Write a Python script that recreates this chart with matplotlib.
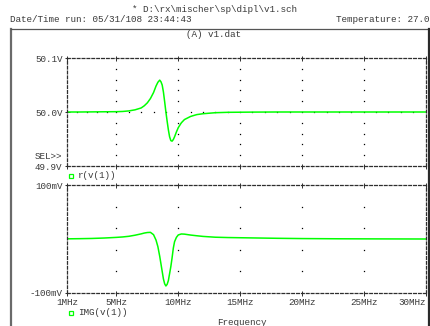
import matplotlib
matplotlib.use("Agg")
import matplotlib.pyplot as plt
from matplotlib.lines import Line2D

# ---- data -------------------------------------------------------------
freq_mhz = [1, 2, 3, 4, 5, 5.5, 6, 6.5, 7, 7.25, 7.5, 7.75, 8.0, 8.2, 8.35,
            8.5, 8.6, 8.7, 8.8, 8.9, 9.0, 9.1, 9.2, 9.3, 9.4, 9.5, 9.6, 9.7,
            9.85, 10.0, 10.25, 10.5, 11, 11.5, 12, 13, 14, 16, 18, 20, 23,
            26, 30]

# r(v(1)) in volts
re_v1 = [50.0, 50.0, 50.0002, 50.0004, 50.0006, 50.001, 50.002, 50.004,
         50.0075, 50.0115, 50.017, 50.025, 50.036, 50.048, 50.055, 50.059,
         50.056, 50.050, 50.037, 50.019, 50.000, 49.983, 49.967, 49.954,
         49.947, 49.946, 49.949, 49.954, 49.963, 49.971, 49.980, 49.986,
         49.9918, 49.9952, 49.9968, 49.9987, 49.9994, 49.9998, 50.0, 50.0,
         50.0, 50.0, 50.0]

# IMG(v(1)) in millivolts
im_v1 = [0.3, 0.6, 1.0, 1.8, 3.0, 3.8, 5.0, 7.0, 9.5, 11.0, 12.0, 12.3,
         8.0, -2.0, -14.0, -32.0, -46.0, -60.0, -74.0, -83.0, -87.0, -84.0,
         -77.0, -64.0, -51.0, -35.0, -17.0, -5.0, 3.0, 7.5, 9.3, 9.0, 7.3,
         6.0, 4.8, 3.3, 2.7, 2.0, 1.3, 0.8, 0.4, 0.2, 0.0]

x_ticks = [1, 5, 10, 15, 20, 25, 30]
x_tick_labels = ["1MHz", "5MHz", "10MHz", "15MHz", "20MHz", "25MHz", "30MHz"]
top_y_ticks = [49.9, 50.0, 50.1]
top_y_labels = ["49.9V", "50.0V", "50.1V"]
bot_y_ticks = [-100, 100]
bot_y_labels = ["-100mV", "100mV"]

# minor grid dot positions
grid_x = [5, 10, 15, 20, 25]
top_grid_y = [49.92, 49.94, 49.96, 49.98, 50.02, 50.04, 50.06, 50.08]
top_center_x = [1.8, 2.6, 3.4, 4.2, 5, 6, 7, 8, 9, 10, 11, 12, 13, 14, 15,
                16, 17, 18, 19, 20, 21, 22, 23, 24, 25, 26, 27, 28, 29]
bot_grid_y = [-60, -20, 20, 60]

# ---- styling ----------------------------------------------------------
W, H = 430, 326
FONT = "Liberation Mono"
FS = 6.7
TXT = "#3a3a3a"
GREEN = "#00ff00"
AXC = "#2e2e2e"
DASH = (0, (2.2, 1.7))

plt.rcParams["font.family"] = [FONT, "DejaVu Sans Mono"]

fig = plt.figure(figsize=(W / 100, H / 100), dpi=100)
fig.patch.set_facecolor("white")


def fx(x):
    return x / W


def fy(y):
    return 1 - y / H


def make_axes(y_top, y_bot):
    x0, x1 = 67, 425.5
    ax = fig.add_axes([fx(x0), fy(y_bot), (x1 - x0) / W, (y_bot - y_top) / H])
    ax.set_facecolor("none")
    for side, sp in ax.spines.items():
        sp.set_linestyle(DASH)
        sp.set_linewidth(0.9)
        sp.set_color(AXC)
    ax.set_xlim(1, 30)
    ax.set_xticks(x_ticks)
    ax.tick_params(direction="inout", length=3.6, width=0.7, color=AXC,
                   labelsize=FS, labelcolor=TXT, pad=1.5,
                   top=True, right=False)
    return ax


def grid_dots(ax, xs, ys):
    ax.plot(xs, ys, ls="none", marker="s", ms=0.9, mew=0, color="black")


# top plot: real part
ax1 = make_axes(58, 166)
ax1.set_ylim(49.9, 50.1)
ax1.set_yticks(top_y_ticks)
ax1.set_yticklabels(top_y_labels)
ax1.set_xticklabels([])
for gx in grid_x:
    grid_dots(ax1, [gx] * len(top_grid_y), top_grid_y)
grid_dots(ax1, top_center_x, [50.0] * len(top_center_x))
ax1.plot(freq_mhz, re_v1, color=GREEN, lw=1.1)

# bottom plot: imaginary part
ax2 = make_axes(185, 293)
ax2.set_ylim(-100, 100)
ax2.set_yticks(bot_y_ticks)
ax2.set_yticklabels(bot_y_labels)
ax2.set_xticklabels(x_tick_labels)
ax2.get_xticklabels()[-1].set_horizontalalignment("right")
for gx in grid_x:
    grid_dots(ax2, [gx] * len(bot_grid_y), bot_grid_y)
ax2.plot(freq_mhz, im_v1, color=GREEN, lw=1.1)

# outer frame
fig.add_artist(Line2D([fx(11), fx(11)], [fy(29), fy(H + 2)], color="#6a6a6a",
                      lw=1.6, transform=fig.transFigure))
fig.add_artist(Line2D([fx(11), fx(428.5)], [fy(29), fy(29)], color="#555555",
                      lw=0.9, transform=fig.transFigure))
fig.add_artist(Line2D([fx(428.5), fx(428.5)], [fy(29), fy(H + 2)],
                      color="#2a2a2a", lw=1.6, transform=fig.transFigure))

# header texts
tkw = dict(fontsize=FS, color=TXT, transform=fig.transFigure)
fig.text(fx(215), fy(9.5), "* D:\\rx\\mischer\\sp\\dipl\\v1.sch",
         ha="center", va="center", **tkw)
fig.text(fx(10), fy(20), "Date/Time run: 05/31/108 23:44:43",
         ha="left", va="center", **tkw)
fig.text(fx(429.5), fy(20), "Temperature: 27.0", ha="right", va="center",
         **tkw)
fig.text(fx(213), fy(34.5), "(A) v1.dat", ha="center", va="center", **tkw)
fig.text(fx(62), fy(156.5), "SEL>>", ha="right", va="center", **tkw)
fig.text(fx(242), fy(322.5), "Frequency", ha="center", va="center", **tkw)

# trace legends
for ly, label in [(175.5, "r(v(1))"), (312.5, "IMG(v(1))")]:
    fig.add_artist(Line2D([fx(70.5)], [fy(ly)], marker="s", ms=3.2,
                          mfc="none", mec=GREEN, mew=0.9, ls="none",
                          transform=fig.transFigure))
    fig.text(fx(78), fy(ly), label, ha="left", va="center", **tkw)

fig.savefig("out.png", dpi=100)
